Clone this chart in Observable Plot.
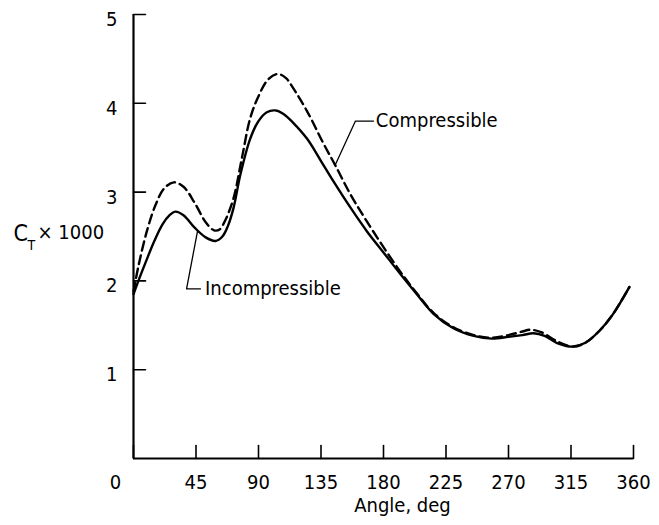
<!DOCTYPE html>
<html>
<head>
<meta charset="utf-8">
<script src="https://cdn.jsdelivr.net/npm/d3@7"></script>
<script src="https://cdn.jsdelivr.net/npm/@observablehq/plot@0.6"></script>
<style>
  html, body { margin: 0; padding: 0; background: #fff; }
  #chart svg { display: block; }
</style>
</head>
<body>
<div id="chart"></div>
<script>
// Incompressible (solid)
const incAngle = [0, 4, 9, 15, 21, 26, 30, 36, 44, 52, 59, 64, 68, 72, 77, 84, 90, 96, 102, 108, 115, 125, 135, 144, 156, 168, 180, 192, 204, 216, 230, 245, 258, 270, 280, 288, 296, 305, 316, 325, 335, 345, 357];
const incValue = [1.85, 2.02, 2.22, 2.45, 2.64, 2.74, 2.78, 2.74, 2.60, 2.49, 2.45, 2.50, 2.62, 2.82, 3.20, 3.60, 3.80, 3.90, 3.92, 3.88, 3.78, 3.60, 3.35, 3.12, 2.83, 2.56, 2.32, 2.08, 1.85, 1.63, 1.47, 1.38, 1.35, 1.37, 1.39, 1.41, 1.38, 1.30, 1.26, 1.30, 1.43, 1.62, 1.93];
// Compressible (dashed)
const compAngle = [0, 4, 10, 16, 22, 29, 36, 44, 52, 58, 62, 66, 72, 78, 84, 90, 97, 104, 110, 115, 125, 137, 145, 156, 168, 190, 204, 216, 230, 245, 258, 270, 280, 286, 294, 305, 316, 325, 335, 345, 357];
const compValue = [1.88, 2.20, 2.58, 2.86, 3.04, 3.11, 3.06, 2.88, 2.66, 2.57, 2.58, 2.68, 2.93, 3.38, 3.83, 4.08, 4.27, 4.33, 4.28, 4.17, 3.91, 3.54, 3.31, 2.98, 2.67, 2.15, 1.86, 1.64, 1.48, 1.39, 1.36, 1.39, 1.43, 1.45, 1.42, 1.32, 1.26, 1.30, 1.43, 1.62, 1.93];

const xTicks = [0, 45, 90, 135, 180, 225, 270, 315, 360];
const yTicks = [1, 2, 3, 4, 5];
const xLabel = "Angle, deg";
const yLabelMain = "C";
const yLabelSub = "T";
const yLabelRest = "× 1000";

// annotation leaders (data space) and labels
const compLabel = "Compressible";
const compLeaderAngle = [145.4, 159.8, 172.8];
const compLeaderValue = [3.31, 3.80, 3.80];
const compLabelPos = [174.5, 3.80];
const incLabel = "Incompressible";
const incLeaderAngle = [46.1, 38.2, 48.2];
const incLeaderValue = [2.56, 1.91, 1.91];
const incLabelPos = [51.5, 1.91];

const inc = incAngle.map((a, i) => ({angle: a, value: incValue[i]}));
const comp = compAngle.map((a, i) => ({angle: a, value: compValue[i]}));
const compLeader = compLeaderAngle.map((a, i) => ({angle: a, value: compLeaderValue[i]}));
const incLeader = incLeaderAngle.map((a, i) => ({angle: a, value: incLeaderValue[i]}));

const font = "'DejaVu Sans Condensed', 'Liberation Sans Narrow', 'DejaVu Sans', sans-serif";

// plain line shape for tick vectors (no arrowhead)
const tickShape = {draw(context, l) { context.moveTo(0, 0); context.lineTo(0, -l); }};

const chart = Plot.plot({
  width: 659,
  height: 525,
  marginLeft: 133,
  marginRight: 26,
  marginTop: 14,
  marginBottom: 67,
  style: {fontFamily: font, fontSize: "20px", background: "#fff", color: "#000"},
  x: {domain: [0, 360], label: null},
  y: {domain: [0, 5], label: null},
  marks: [
    // inward tick marks
    Plot.vector(yTicks, {x: () => 0, y: d => d, rotate: 90, length: 12, anchor: "start", shape: tickShape, stroke: "#000", strokeWidth: 1.6}),
    Plot.vector(xTicks, {x: d => d, y: () => 0, rotate: 0, length: 13, anchor: "start", shape: tickShape, stroke: "#000", strokeWidth: 1.6}),
    // tick labels
    Plot.axisY(yTicks, {anchor: "left", tickSize: 0, tickPadding: 16, dy: 5, label: null, fontSize: 20, tickFormat: d => String(d)}),
    Plot.axisX(xTicks.filter(d => d !== 0), {anchor: "bottom", tickSize: 0, tickPadding: 16, label: null, fontSize: 20, tickFormat: d => String(d)}),
    Plot.text(xTicks.filter(d => d === 0), {x: d => d, y: () => 0, text: d => String(d), dx: -18, dy: 24, fontSize: 20}),
    Plot.ruleX([0], {strokeWidth: 2.2}),
    Plot.ruleY([0], {strokeWidth: 2.2}),
    Plot.line(comp, {x: "angle", y: "value", curve: "catmull-rom", stroke: "#000", strokeWidth: 2.4, strokeDasharray: "9,5"}),
    Plot.line(inc, {x: "angle", y: "value", curve: "catmull-rom", stroke: "#000", strokeWidth: 2.4}),
    Plot.line(compLeader, {x: "angle", y: "value", stroke: "#000", strokeWidth: 1.3}),
    Plot.line(incLeader, {x: "angle", y: "value", stroke: "#000", strokeWidth: 1.3}),
    Plot.text([compLabel], {x: () => compLabelPos[0], y: () => compLabelPos[1], text: d => d, textAnchor: "start", fontSize: 20}),
    Plot.text([incLabel], {x: () => incLabelPos[0], y: () => incLabelPos[1], text: d => d, textAnchor: "start", fontSize: 20}),
    Plot.text([xLabel], {frameAnchor: "bottom", text: d => d, dx: 19, dy: 47, lineAnchor: "middle", fontSize: 20}),
    Plot.text([yLabelMain], {frameAnchor: "left", text: d => d, dx: -120, dy: -3, textAnchor: "start", lineAnchor: "middle", fontSize: 23}),
    Plot.text([yLabelSub], {frameAnchor: "left", text: d => d, dx: -106, dy: 9, textAnchor: "start", lineAnchor: "middle", fontSize: 14}),
    Plot.text([yLabelRest], {frameAnchor: "left", text: d => d, dx: -96, dy: -4, textAnchor: "start", lineAnchor: "middle", fontSize: 20})
  ]
});
document.getElementById("chart").appendChild(chart);
</script>
</body>
</html>
